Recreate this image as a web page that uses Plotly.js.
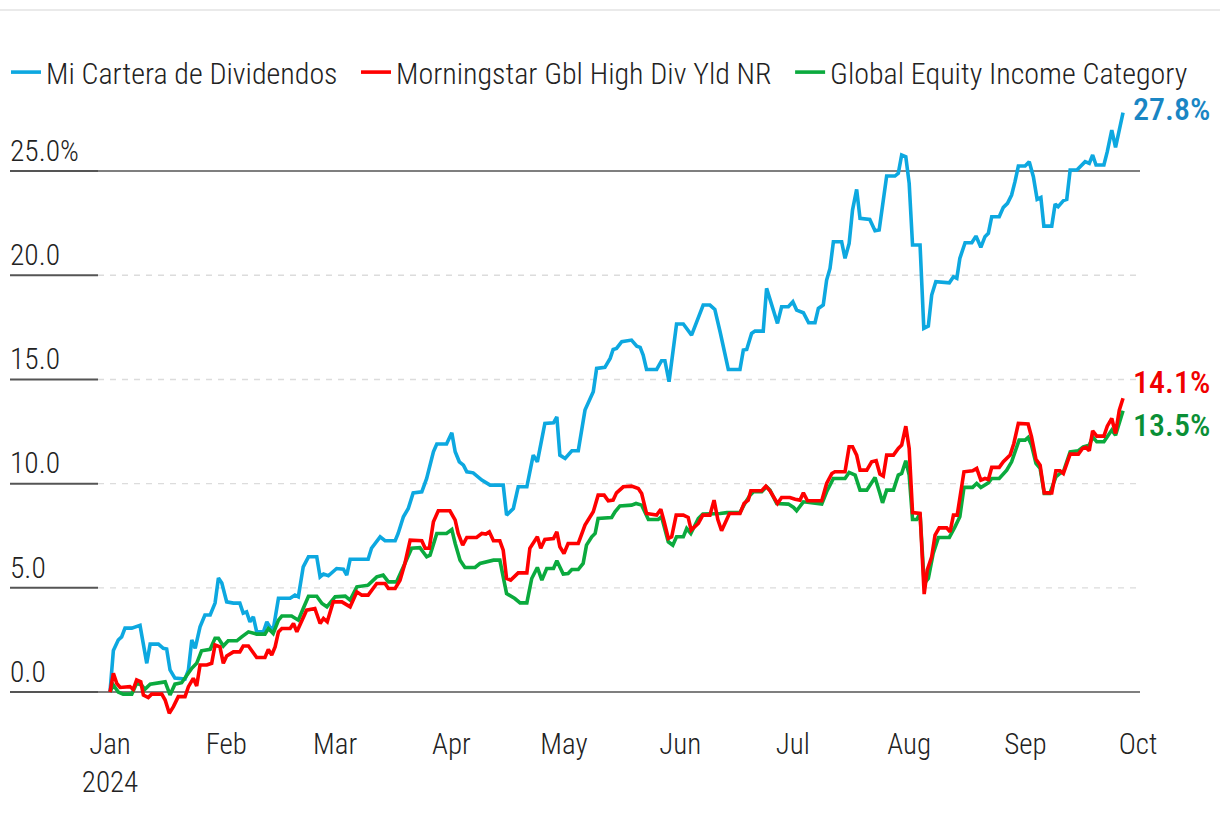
<!DOCTYPE html>
<html><head><meta charset="utf-8">
<script src="https://cdn.plot.ly/plotly-3.0.1.min.js"></script>
<style>
html,body{margin:0;padding:0;background:#fff;}
#chart{width:1220px;height:814px;}
#chart text{font-stretch:condensed;}
</style></head>
<body><div id="chart"></div>
<script>
// ---- data: [days since 2024-01-01, cumulative return %] ----
const seriesNames = ['Mi Cartera de Dividendos','Morningstar Gbl High Div Yld NR','Global Equity Income Category'];

const carteraSeries = [[0,0],[0.9,2.0],[2.2,2.5],[3.1,2.65],[4.0,3.07],[5.8,3.07],[8.0,3.2],[8.8,2.4],[9.8,1.38],[10.7,2.3],[12.9,2.3],[14.2,2.1],[15.1,2.07],[16.0,1.06],[17.3,0.67],[20.0,0.62],[20.9,1.06],[21.8,2.5],[22.7,2.1],[24.0,3.13],[25.3,3.7],[26.7,3.7],[28.0,4.27],[28.9,5.47],[29.8,5.23],[31.1,4.33],[32.9,4.27],[34.6,4.27],[35.5,3.79],[36.4,3.85],[37.3,3.37],[38.2,3.61],[39.1,2.89],[40.9,2.89],[41.8,3.37],[42.6,3.13],[43.5,3.0],[44.9,4.5],[48.0,4.5],[49.3,4.65],[50.2,4.57],[51.5,6.01],[52.9,6.49],[55.1,6.49],[56.0,5.53],[56.9,5.66],[58.2,5.58],[60.4,5.93],[62.2,5.9],[63.1,5.61],[64.0,6.37],[65.3,6.37],[68.8,6.37],[69.7,6.9],[72.0,7.45],[73.3,7.26],[76.0,7.26],[76.8,7.61],[78.2,8.41],[79.5,8.81],[80.8,9.56],[83.1,9.61],[84.4,10.25],[86.2,11.53],[87.1,11.9],[89.7,11.9],[91.1,12.44],[92.0,11.53],[93.1,11.05],[94.2,10.89],[95.1,10.57],[96.8,10.52],[99.1,10.17],[101.3,9.93],[104.8,9.93],[105.7,8.49],[107.5,8.81],[108.8,9.85],[111.1,9.85],[112.8,11.37],[113.9,11.05],[115.9,12.89],[118.2,12.92],[119.1,13.21],[119.9,11.37],[121.3,11.21],[123.1,11.58],[124.8,11.58],[126.6,13.53],[128.8,14.41],[129.7,15.53],[131.9,15.58],[133.3,16.01],[134.1,16.44],[135.0,16.49],[136.4,16.81],[138.1,16.89],[139.0,16.89],[140.4,16.6],[141.3,16.54],[142.1,16.17],[143.0,15.48],[145.7,15.48],[147.0,15.9],[147.9,15.9],[149.0,14.89],[151.0,17.66],[152.8,17.66],[155.0,17.13],[156.4,17.77],[158.1,18.57],[159.9,18.57],[161.2,18.36],[162.6,17.29],[164.8,15.48],[167.9,15.48],[168.8,16.41],[169.7,16.44],[171.0,17.21],[171.9,17.32],[174.1,17.32],[175.0,19.37],[176.4,18.57],[177.9,17.69],[179.0,18.49],[180.8,18.49],[182.0,18.73],[183.0,18.33],[184.8,18.2],[186.2,17.72],[187.9,17.72],[188.8,18.41],[190.1,18.57],[191.0,19.77],[191.9,20.33],[192.8,21.61],[195.0,21.61],[195.9,20.81],[197.0,21.53],[197.9,23.13],[199.0,24.12],[199.9,22.73],[202.5,22.68],[203.9,22.14],[205.0,22.17],[206.1,23.69],[207.0,24.76],[209.2,24.76],[210.1,24.89],[211.0,25.77],[212.1,25.69],[213.0,24.41],[213.9,21.45],[215.9,21.45],[216.9,17.45],[218.1,17.56],[219.0,19.05],[220.1,19.69],[223.7,19.64],[224.8,19.93],[225.7,19.85],[226.5,20.81],[227.9,21.56],[229.7,21.56],[230.8,21.88],[232.1,21.34],[233.2,21.85],[234.1,22.01],[235.0,22.81],[237.0,22.81],[238.1,23.26],[239.2,23.45],[240.3,23.85],[241.2,24.49],[242.1,25.24],[243.9,25.24],[245.0,25.45],[246.1,24.73],[247.1,23.64],[248.1,23.73],[248.9,22.36],[251.0,22.36],[251.9,23.42],[252.7,23.29],[254.1,23.58],[255.0,23.64],[255.9,25.05],[257.7,25.05],[259.0,25.32],[259.9,25.45],[261.0,25.37],[261.9,25.77],[262.8,25.29],[264.9,25.29],[265.8,25.93],[267.0,26.97],[268.0,26.14],[269.0,27.06],[270.0,27.8]];

const indexSeries = [[0,0],[0.9,0.9],[1.8,0.42],[2.7,0.22],[5.3,0.26],[6.2,0.13],[7.1,0.58],[8.2,0.49],[8.9,-0.14],[10.2,-0.26],[11.1,-0.1],[13.8,-0.1],[14.7,-0.38],[15.8,-1.02],[16.9,-0.7],[18.2,-0.22],[20.0,-0.22],[20.9,0.26],[22.2,0.66],[23.1,0.29],[24.0,1.3],[25.8,1.3],[27.1,1.38],[28.0,2.26],[29.3,2.17],[30.2,1.38],[31.1,1.73],[32.9,1.93],[34.6,1.93],[35.5,2.21],[36.9,2.21],[39.1,1.66],[41.3,1.66],[42.2,2.05],[43.1,1.78],[44.0,2.17],[44.9,2.89],[45.8,3.05],[48.0,3.05],[48.9,3.29],[49.8,2.89],[51.1,3.45],[52.4,3.93],[54.6,4.01],[56.0,3.29],[56.9,3.53],[57.9,3.37],[59.5,4.33],[61.8,4.33],[64.0,4.09],[65.8,4.81],[67.1,4.65],[68.8,4.65],[71.1,5.21],[73.3,5.21],[74.2,4.97],[76.0,4.97],[77.3,5.37],[78.6,6.17],[80.0,7.29],[83.1,7.26],[84.0,6.9],[85.1,6.9],[86.2,8.17],[87.5,8.7],[90.6,8.7],[92.0,8.25],[92.8,7.61],[94.0,7.05],[95.1,7.42],[97.7,7.42],[99.1,7.61],[100.2,7.58],[101.1,7.69],[102.2,7.26],[103.9,7.26],[104.8,6.81],[105.7,5.45],[106.8,5.37],[108.8,5.72],[111.1,5.72],[111.9,6.9],[113.9,7.45],[114.8,6.9],[115.9,7.32],[118.2,7.37],[119.1,7.69],[119.9,6.97],[121.0,6.65],[122.1,7.13],[124.8,7.13],[126.6,8.01],[128.8,8.65],[130.1,9.45],[131.7,9.45],[132.8,9.18],[134.1,9.21],[135.0,9.56],[136.8,9.85],[139.0,9.88],[140.8,9.77],[141.7,9.53],[143.0,8.57],[145.7,8.49],[146.8,8.77],[147.7,8.17],[148.8,7.37],[149.7,7.45],[150.9,8.49],[152.8,8.49],[154.1,8.38],[154.9,7.77],[155.9,7.97],[156.8,8.09],[158.0,8.49],[159.9,8.49],[161.0,9.21],[162.0,8.28],[163.0,7.74],[165.1,8.57],[167.9,8.57],[169.0,9.05],[170.1,9.21],[170.8,9.66],[173.7,9.66],[174.8,9.88],[175.9,9.66],[177.9,9.05],[179.0,9.34],[181.2,9.34],[182.6,9.25],[183.9,9.21],[184.8,9.56],[185.9,9.18],[189.7,9.18],[191.0,10.01],[192.4,10.49],[193.2,10.57],[195.9,10.57],[197.0,11.77],[197.9,11.77],[199.0,11.37],[199.9,10.65],[201.7,10.65],[203.0,11.05],[204.2,11.1],[205.2,10.46],[206.1,10.36],[207.0,11.37],[208.8,11.37],[210.1,11.69],[211.0,11.85],[212.1,12.76],[213.0,11.69],[213.9,8.61],[215.9,8.57],[217.0,4.7],[217.8,5.85],[219.0,6.49],[219.9,7.53],[221.0,7.88],[223.0,7.88],[223.9,7.69],[224.8,8.49],[225.8,8.49],[226.4,9.21],[227.6,10.57],[229.9,10.62],[231.0,10.73],[232.1,10.17],[233.2,10.25],[234.1,10.2],[235.0,10.78],[237.0,10.78],[238.1,11.05],[239.9,11.37],[240.9,11.93],[242.1,12.89],[244.7,12.86],[245.6,12.25],[246.8,11.17],[247.9,10.89],[249.0,9.56],[251.0,9.56],[252.1,10.62],[253.2,10.62],[254.1,10.49],[255.9,11.42],[258.1,11.42],[259.2,11.69],[260.1,11.74],[261.0,11.58],[261.9,12.54],[263.0,12.28],[264.9,12.28],[265.8,12.76],[267.0,13.13],[268.0,12.41],[269.0,13.53],[270.0,14.1]];

const categorySeries = [[0,0],[0.9,0.34],[2.2,0.0],[3.5,-0.1],[5.8,-0.1],[7.1,0.42],[8.4,0.34],[9.3,0.13],[10.7,0.38],[12.0,0.42],[13.8,0.45],[14.7,0.49],[16.0,-0.14],[17.3,0.38],[19.1,0.45],[20.4,0.77],[21.8,1.14],[23.1,1.38],[24.0,1.78],[24.4,1.98],[26.7,2.05],[28.0,2.58],[28.9,2.58],[30.2,2.21],[31.5,2.46],[33.8,2.46],[35.1,2.65],[36.9,2.89],[39.1,2.78],[41.3,2.78],[42.2,3.05],[43.5,2.81],[44.9,3.45],[45.8,3.65],[48.4,3.65],[50.2,3.45],[51.5,4.01],[52.9,4.6],[55.1,4.6],[56.5,4.25],[57.8,4.09],[60.0,4.57],[62.7,4.6],[64.0,4.41],[65.8,5.05],[68.8,5.13],[71.1,5.53],[72.8,5.61],[74.2,5.29],[76.4,5.29],[78.2,6.01],[80.4,6.9],[82.6,6.93],[84.4,6.49],[85.3,6.57],[87.1,7.61],[89.7,7.61],[91.1,7.8],[92.0,7.13],[93.3,6.33],[94.6,5.98],[97.3,5.98],[98.6,6.17],[100.4,6.25],[102.2,6.33],[103.9,6.33],[105.7,4.73],[107.9,4.49],[109.3,4.28],[111.1,4.28],[112.4,5.45],[113.9,5.98],[115.1,5.37],[116.4,5.93],[118.2,5.93],[119.1,6.3],[120.8,5.66],[122.1,5.69],[123.1,5.88],[124.8,5.88],[126.1,6.17],[127.0,7.05],[128.4,7.45],[129.3,7.61],[130.1,8.33],[133.7,8.38],[134.6,8.65],[135.9,8.93],[138.1,8.97],[139.0,8.97],[140.2,9.05],[141.7,8.97],[143.5,8.28],[146.1,8.28],[147.0,8.41],[148.8,7.21],[150.0,7.05],[151.0,7.45],[152.8,7.45],[153.7,7.85],[154.8,7.61],[155.6,7.93],[156.8,8.33],[158.0,8.54],[159.9,8.54],[162.6,8.57],[164.4,8.61],[167.9,8.61],[169.2,9.05],[170.6,9.45],[171.5,9.61],[173.7,9.61],[175.0,9.85],[175.9,9.69],[177.7,9.05],[179.5,9.05],[180.8,9.02],[182.2,8.86],[183.0,8.7],[184.8,9.13],[189.7,9.02],[191.0,9.61],[192.8,10.25],[195.9,10.25],[197.0,10.54],[198.6,10.41],[199.9,9.69],[201.7,9.69],[203.9,10.3],[205.2,9.53],[205.9,9.08],[207.0,9.69],[208.8,9.69],[210.1,10.41],[211.0,10.49],[212.1,11.1],[213.0,10.41],[213.9,8.28],[215.0,8.28],[215.9,8.57],[217.0,5.21],[218.1,5.45],[219.4,6.65],[220.8,7.42],[223.7,7.42],[225.2,7.93],[226.5,8.41],[227.6,9.82],[229.9,9.82],[231.0,10.01],[232.1,9.82],[234.1,10.04],[235.0,10.25],[237.0,10.25],[239.0,10.65],[240.3,11.05],[241.6,11.77],[242.3,12.09],[243.9,12.09],[244.7,12.22],[245.6,11.85],[246.8,10.97],[247.9,10.73],[249.0,9.53],[250.5,9.53],[252.1,10.33],[253.2,10.49],[254.1,10.57],[255.9,11.53],[258.1,11.58],[259.4,11.77],[261.0,11.85],[261.9,12.25],[263.0,12.01],[264.9,12.01],[265.8,12.25],[267.0,12.57],[268.0,12.33],[269.3,13.05],[270.0,13.5]];

const monthTickDates = ['2024-01-01','2024-02-01','2024-03-01','2024-04-01','2024-05-01','2024-06-01','2024-07-01','2024-08-01','2024-09-01','2024-10-01'];
const monthTickText = ['Jan<br>2024','Feb','Mar','Apr','May','Jun','Jul','Aug','Sep','Oct'];
const yTickVals = [0,5,10,15,20,25];
const yTickText = ['0.0','5.0','10.0','15.0','20.0','25.0%'];
const solidGridVals = [0,25];
const endLabels = ['27.8%','14.1%','13.5%'];

// ---- styling ----
const FONT = "'Roboto Condensed','Liberation Sans Narrow','DejaVu Sans Condensed','Arial Narrow',Roboto,sans-serif";
const lineColors = ['#0DA8E0','#FF0000','#0BAA3E'];
const labelColors = ['#1A86C4','#F00000','#0A8F36'];
const labelShift = [4,16,-14];
const legendPad = ['\u00a0\u00a0','\u00a0\u00a0',''];

const DAY = 86400000, T0 = Date.UTC(2024,0,1);
function toDate(d){ return new Date(T0 + d*DAY).toISOString().replace('T',' ').slice(0,19); }

const W = 1220;      // paper width in px (no side margins)
const AXW = 1140;    // x-axis width in px
const allSeries = [carteraSeries, indexSeries, categorySeries];
const rank = [1,2,3];
const drawOrder = [0,2,1];
const traces = drawOrder.map(i => ({
  type:'scatter', mode:'lines', name: seriesNames[i] + legendPad[i],
  x: allSeries[i].map(p => toDate(p[0])),
  y: allSeries[i].map(p => p[1]),
  line:{color: lineColors[i], width:3.6, shape:'linear'},
  legendrank: rank[i], hoverinfo:'skip'
}));

const shapes = [];
yTickVals.forEach(v => {
  const solid = solidGridVals.includes(v);
  if (!solid) shapes.push({type:'line', xref:'paper', yref:'y', x0:98/W, x1:AXW/W, y0:v, y1:v,
                           line:{color:'#dcdcdc', width:1.4, dash:'6px,6px'}, layer:'below'});
  shapes.push({type:'line', xref:'paper', yref:'y', x0:10/W, x1:98/W, y0:v, y1:v, line:{color:'#555', width:2}, layer:'below'});
  if (solid) shapes.push({type:'line', xref:'paper', yref:'y', x0:98/W, x1:AXW/W, y0:v, y1:v, line:{color:'#555', width:1.5}, layer:'below'});
});
shapes.push({type:'line', xref:'paper', yref:'paper', x0:0, x1:1, y0:(720-10)/620, y1:(720-10)/620, line:{color:'#e3e3e3', width:1.5}});

const annotations = allSeries.map((s,i) => ({
  x: toDate(s[s.length-1][0]), y: s[s.length-1][1], xref:'x', yref:'y',
  text: endLabels[i], showarrow:false, xanchor:'left', yanchor:'middle',
  xshift: 8, yshift: labelShift[i],
  font:{family:FONT, size:32, weight:500, color: labelColors[i]}
}));

const layout = {
  width:1220, height:814,
  margin:{l:0, r:0, t:100, b:94, pad:0},
  paper_bgcolor:'#fff', plot_bgcolor:'#fff',
  font:{family:FONT, color:'#222', size:28},
  showlegend:true,
  legend:{orientation:'h', x:6/W, xanchor:'left', y:1.045, yanchor:'middle',
          font:{family:FONT, size:30, weight:300, color:'#222'}, bgcolor:'rgba(0,0,0,0)', itemwidth:30, traceorder:'normal'},
  xaxis:{type:'date', domain:[0, AXW/W], range:[toDate(-110/3.752), toDate((AXW-110)/3.752)], tickmode:'array', tickvals:monthTickDates, ticktext:monthTickText,
         showgrid:false, zeroline:false, showline:false, ticks:'', ticklabelstandoff:4,
         tickfont:{family:FONT, size:29, weight:300, color:'#222'}, fixedrange:true},
  yaxis:{range:[-1.34, 28.41], tickmode:'array', tickvals:yTickVals, ticktext:yTickText, ticklabelposition:'inside top',
         ticklabelstandoff:7, showgrid:false, zeroline:false, showline:false, ticks:'',
         tickfont:{family:FONT, size:29.5, weight:300, color:'#222'}, fixedrange:true},
  shapes: shapes,
  annotations: annotations
};

Plotly.newPlot('chart', traces, layout, {displayModeBar:false, staticPlot:true});
</script>
</body></html>
